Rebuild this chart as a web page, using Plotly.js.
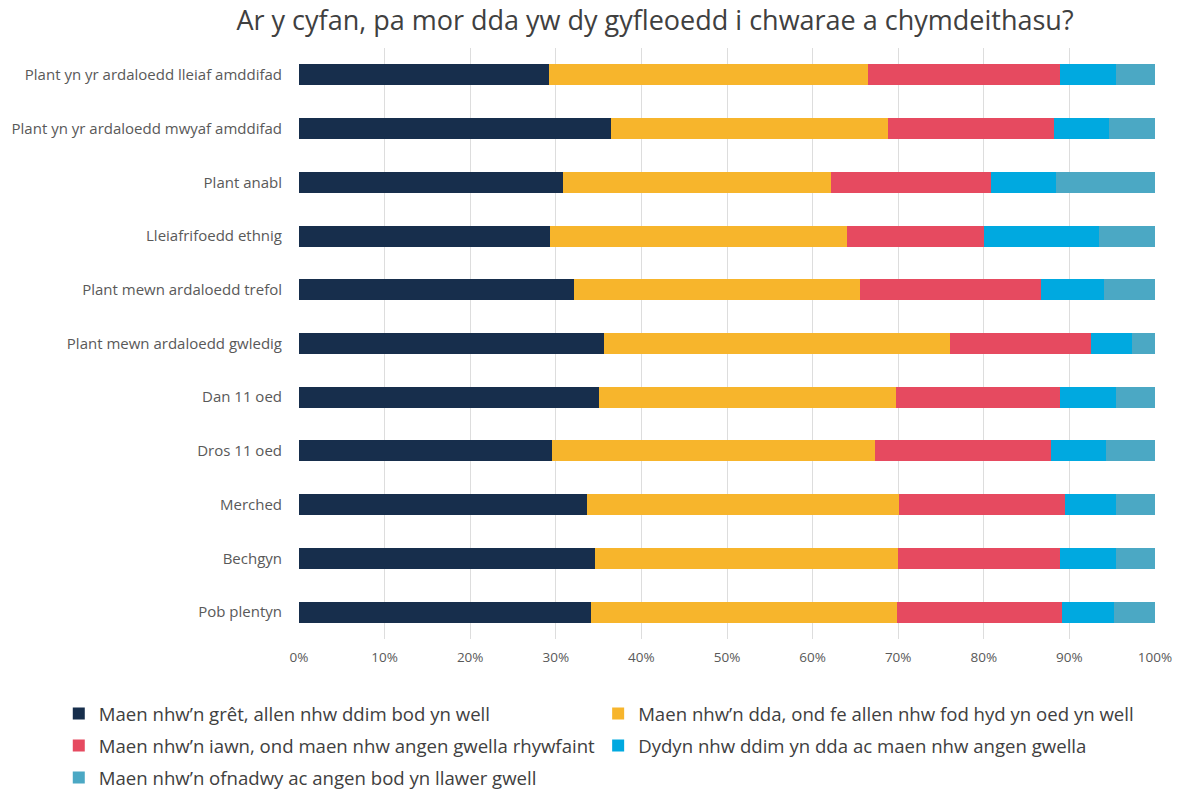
<!DOCTYPE html>
<html>
<head>
<meta charset="utf-8">
<script src="https://cdn.plot.ly/plotly-3.0.1.min.js"></script>
<style>html,body{margin:0;padding:0;background:#fff;}#chart{width:1181px;height:789px;}</style>
</head>
<body>
<div id="chart"></div>
<script>
const categories = [
  "Plant yn yr ardaloedd lleiaf amddifad",
  "Plant yn yr ardaloedd mwyaf amddifad",
  "Plant anabl",
  "Lleiafrifoedd ethnig",
  "Plant mewn ardaloedd trefol",
  "Plant mewn ardaloedd gwledig",
  "Dan 11 oed",
  "Dros 11 oed",
  "Merched",
  "Bechgyn",
  "Pob plentyn"
];
const seriesNames = [
  "Maen nhw\u2019n grêt, allen nhw ddim bod yn well",
  "Maen nhw\u2019n dda, ond fe allen nhw fod hyd yn oed yn well",
  "Maen nhw\u2019n iawn, ond maen nhw angen gwella rhywfaint",
  "Dydyn nhw ddim yn dda ac maen nhw angen gwella",
  "Maen nhw\u2019n ofnadwy ac angen bod yn llawer gwell"
];
const great    = [29.2, 36.5, 30.8, 29.3, 32.1, 35.6, 35.0, 29.5, 33.7, 34.6, 34.1];
const good     = [37.3, 32.3, 31.4, 34.7, 33.4, 40.5, 34.8, 37.8, 36.4, 35.4, 35.8];
const okay     = [22.4, 19.4, 18.6, 16.0, 21.2, 16.4, 19.1, 20.6, 19.4, 18.9, 19.2];
const notGood  = [6.6, 6.4, 7.6, 13.4, 7.3, 4.8, 6.5, 6.4, 6.0, 6.5, 6.1];
const terrible = [4.5, 5.4, 11.6, 6.6, 6.0, 2.7, 4.6, 5.7, 4.5, 4.6, 4.8];
const tickVals = [0, 10, 20, 30, 40, 50, 60, 70, 80, 90, 100];
const tickText = ["0%", "10%", "20%", "30%", "40%", "50%", "60%", "70%", "80%", "90%", "100%"];

const colors = ["#172E4C", "#F7B52C", "#E64A60", "#00A9E0", "#4BA8C4"];
const values = [great, good, okay, notGood, terrible];
const legendIds = ["legend", "legend2", "legend3", "legend4", "legend5"];

const traces = values.map((v, i) => ({
  type: "bar",
  orientation: "h",
  name: seriesNames[i],
  y: categories,
  x: v,
  marker: {color: colors[i], line: {width: 0}},
  legend: legendIds[i],
  hoverinfo: "name+x"
}));

// legend placement (pixels) converted to paper coords of plot area
const L = 298.5, W = 857, B = 639, H = 591;
function leg(px, py) {
  return {
    orientation: "h",
    xref: "paper", yref: "paper",
    x: (px - L) / W, xanchor: "left",
    y: (B - py) / H, yanchor: "middle",
    font: {family: "Open Sans, sans-serif", size: 18.6, color: "#404040"},
    bgcolor: "rgba(0,0,0,0)",
    itemclick: false, itemdoubleclick: false
  };
}

const layout = {
  width: 1181, height: 789,
  paper_bgcolor: "#ffffff", plot_bgcolor: "#ffffff",
  margin: {l: L, r: 1181 - L - W, t: 48, b: 789 - B, autoexpand: false},
  barmode: "stack",
  bargap: 0.61,
  title: {
    text: "Ar y cyfan, pa mor dda yw dy gyfleoedd i chwarae a chymdeithasu?",
    font: {family: "Open Sans, sans-serif", size: 27, color: "#404040"},
    x: 655 / 1181, xref: "container", xanchor: "center",
    y: 1 - 21 / 789, yref: "container", yanchor: "middle"
  },
  xaxis: {
    range: [0, 100],
    tickvals: tickVals, ticktext: tickText,
    showgrid: true, gridcolor: "#DDDDDD", gridwidth: 1,
    zeroline: false, showline: false,
    ticks: "", ticklabelstandoff: 8,
    tickfont: {family: "Open Sans, sans-serif", size: 13.5, color: "#595959"},
    fixedrange: true
  },
  yaxis: {
    autorange: "reversed",
    showgrid: false, zeroline: false, showline: false,
    ticks: "", ticklabelstandoff: 16,
    tickfont: {family: "Open Sans, sans-serif", size: 15, color: "#595959"},
    fixedrange: true
  },
  legend: leg(58, 714),
  legend2: leg(598, 714),
  legend3: leg(58, 746),
  legend4: leg(598, 746),
  legend5: leg(58, 778),
  showlegend: true
};

Plotly.newPlot("chart", traces, layout, {displayModeBar: false});
</script>
</body>
</html>
